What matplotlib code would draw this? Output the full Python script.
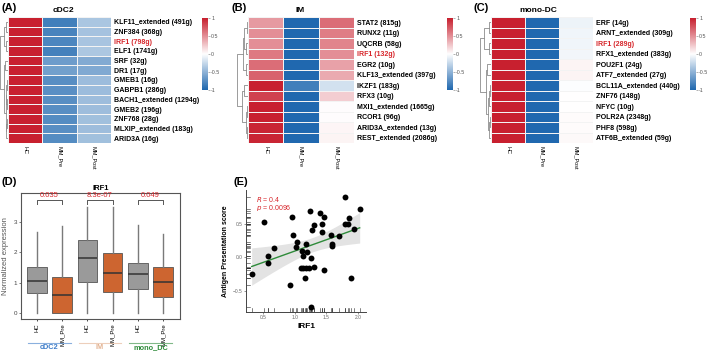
import numpy as np
import matplotlib

matplotlib.use("Agg")
import matplotlib.pyplot as plt  # noqa: E402
import matplotlib.transforms as mtransforms  # noqa: E402
from matplotlib.colors import LinearSegmentedColormap  # noqa: E402

plt.rcParams["font.family"] = ["Liberation Sans", "DejaVu Sans"]

W, H = 709, 358
RED = "#D7262B"
CMAP = LinearSegmentedColormap.from_list("rb", ["#2068AF", "#FFFFFF", "#C8202F"])
conds = ["HC", "MM_Pre", "MM_Post"]

# ---- heatmap data (row-scaled regulon activity) ----
cdc2_genes = ["KLF11_extended (491g)", "ZNF384 (368g)", "IRF1 (798g)", "ELF1 (1741g)",
              "SRF (32g)", "DR1 (17g)", "GMEB1 (16g)", "GABPB1 (286g)",
              "BACH1_extended (1294g)", "GMEB2 (196g)", "ZNF768 (28g)",
              "MLXIP_extended (183g)", "ARID3A (16g)"]
cdc2_hc = [1, 1, 1, 1, 1, 1, 1, 1, 1, 1, 1, 1, 1]
cdc2_pre = [-0.85, -0.82, -0.8, -0.83, -0.65, -0.63, -0.75, -0.74, -0.75, -0.75, -0.76, -0.75, -0.76]
cdc2_post = [-0.38, -0.4, -0.39, -0.37, -0.56, -0.57, -0.44, -0.44, -0.43, -0.43, -0.42, -0.43, -0.42]

im_genes = ["STAT2 (815g)", "RUNX2 (11g)", "UQCRB (58g)", "IRF1 (132g)", "EGR2 (10g)",
            "KLF13_extended (397g)", "IKZF1 (183g)", "RFX3 (10g)", "MXI1_extended (1665g)",
            "RCOR1 (96g)", "ARID3A_extended (13g)", "REST_extended (2086g)"]
im_hc = [0.45, 0.5, 0.5, 0.6, 0.65, 0.7, 1.0, 0.85, 1.0, 1.0, 0.97, 0.97]
im_pre = [-1, -1, -1, -1, -1, -1, -0.85, -1, -1, -1, -1, -1]
im_post = [0.65, 0.58, 0.55, 0.5, 0.42, 0.38, -0.2, 0.22, 0.01, 0.01, 0.04, 0.05]

mono_genes = ["ERF (14g)", "ARNT_extended (309g)", "IRF1 (289g)", "RFX1_extended (383g)",
              "POU2F1 (24g)", "ATF7_extended (27g)", "BCL11A_extended (440g)", "ZNF76 (148g)",
              "NFYC (10g)", "POLR2A (2348g)", "PHF8 (598g)", "ATF6B_extended (59g)"]
mono_hc = [1] * 12
mono_pre = [-1] * 12
mono_post = [-0.08, -0.07, -0.07, -0.06, 0.05, 0.05, -0.01, 0.0, 0.0, 0.02, 0.02, 0.03]

# dendrogram merges: (left, right, height), leaves = row index
cdc2_tree = (((0, 1, 0.3), (2, 3, 0.25), 0.55),
             ((4, 5, 0.35), (((6, 7, 0.12), (8, 9, 0.15), 0.25), ((10, 11, 0.12), 12, 0.2), 0.3), 0.45), 0.95)
im_tree = ((((0, 1, 0.1), (2, 3, 0.15), 0.3), (4, 5, 0.15), 0.45),
           ((6, 7, 0.35), ((8, 9, 0.1), (10, 11, 0.1), 0.2), 0.5), 0.95)
mono_tree = (((0, 1, 0.15), (2, 3, 0.15), 0.6),
             ((4, 5, 0.3), (((6, 7, 0.1), 8, 0.15), ((9, 10, 0.1), 11, 0.15), 0.25), 0.4), 0.95)

# ---- boxplot data (IRF1) ----
box_pos = [1, 2, 3, 4, 5, 6]
box_lo = [0, 0, 0, 0, 0, 0]
box_q1 = [0.65, 0.0, 1.02, 0.68, 0.80, 0.53]
box_med = [1.05, 0.58, 1.80, 1.32, 1.28, 1.03]
box_q3 = [1.50, 1.18, 2.40, 1.97, 1.63, 1.52]
box_hi = [2.65, 2.85, 3.50, 3.50, 2.90, 2.60]
box_labels = ["HC", "MM_Pre", "HC", "MM_Pre", "HC", "MM_Pre"]
pvals = ["0.035", "8.3e-07", "0.049"]
groups = ["cDC2", "IM", "mono_DC"]
group_colors = ["#3D7CC9", "#E2B08E", "#2E8B3A"]

# ---- scatter data ----
irf1 = [0.32, 0.52, 0.58, 0.58, 0.67, 0.92, 0.96, 0.98, 1.03, 1.02, 1.11, 1.13, 1.10, 1.14,
        1.18, 1.22, 1.16, 1.18, 1.20, 1.25, 1.27, 1.26, 1.31, 1.31, 1.40, 1.43, 1.44, 1.47,
        1.47, 1.57, 1.59, 1.59, 1.70, 1.79, 1.79, 1.85, 1.86, 1.89, 1.94, 2.03, 1.26]
aps = [-0.26, 0.53, 0.02, -0.09, 0.13, -0.41, 0.59, 0.33, 0.23, 0.15, 0.09, 0.01, -0.16, -0.16,
       -0.16, -0.16, -0.32, 0.19, 0.08, 0.68, 0.40, -0.01, 0.48, -0.15, 0.65, 0.49, 0.38, 0.60,
       -0.20, 0.33, 0.19, 0.17, 0.31, 0.89, 0.50, 0.49, 0.58, -0.31, 0.42, 0.71, -0.74]


def px_axes(x0, y0, x1, y1):
    return fig.add_axes([x0 / W, 1 - y1 / H, (x1 - x0) / W, (y1 - y0) / H])


def dendro(ax, tree, n):
    def rec(node):
        if isinstance(node, int):
            return node + 0.5, 0.0
        a, b, h = node
        ya, ha = rec(a)
        yb, hb = rec(b)
        ax.plot([ha, h, h, hb], [ya, ya, yb, yb], color="#8c8c8c", lw=0.6)
        return (ya + yb) / 2, h

    rec(tree)
    ax.set_ylim(n, 0)
    ax.set_xlim(1.0, 0)
    ax.axis("off")


def heat_panel(letter, lx, title, tx, hx0, hx1, genes, hc, pre, post, tree, cbx):
    n = len(genes)
    mat = np.array([hc, pre, post]).T
    ax = px_axes(hx0, 17, hx1, 143)
    ax.pcolormesh(mat, cmap=CMAP, vmin=-1, vmax=1, edgecolors="#f3f3f3", linewidth=0.5)
    ax.set_ylim(n, 0)
    ax.set_xlim(0, 3)
    ax.set_xticks([0.5, 1.5, 2.5])
    ax.set_xticklabels(conds, rotation=-90, fontsize=4, va="top")
    ax.set_yticks(np.arange(n) + 0.5)
    ax.set_yticklabels(genes, fontsize=5, fontweight="bold")
    ax.yaxis.tick_right()
    ax.tick_params(length=0, pad=2)
    for t in ax.get_yticklabels():
        if t.get_text().startswith("IRF1"):
            t.set_color(RED)
    for s in ax.spines.values():
        s.set_visible(False)

    dax = px_axes(hx0 - (8 if letter == "(A)" else 12), 17, hx0, 143)
    dendro(dax, tree, n)

    cax = px_axes(cbx, 18, cbx + 6, 90)
    grad = np.linspace(-1, 1, 200).reshape(-1, 1)
    cax.imshow(grad, aspect="auto", cmap=CMAP, origin="lower", extent=[0, 1, -1, 1])
    cax.set_xticks([])
    cax.yaxis.tick_right()
    cax.set_yticks([-1, -0.5, 0, 0.5, 1])
    cax.set_yticklabels(["-1", "-0.5", "0", "0.5", "1"], fontsize=3.8, color="#555")
    cax.tick_params(axis="y", length=1.2, width=0.4, pad=1, color="#777")
    for s in cax.spines.values():
        s.set_visible(False)

    fig.text(lx / W, 1 - 3 / H, letter, fontsize=8, fontweight="bold", va="top")
    fig.text(tx / W, 1 - 10 / H, title, fontsize=6, fontweight="bold", ha="center", va="center")


fig = plt.figure(figsize=(W / 100, H / 100), dpi=100)

heat_panel("(A)", 1, "cDC2", 63, 8, 111, cdc2_genes, cdc2_hc, cdc2_pre, cdc2_post, cdc2_tree, 202)
heat_panel("(B)", 231, "IM", 300, 248, 354, im_genes, im_hc, im_pre, im_post, im_tree, 447)
heat_panel("(C)", 474, "mono-DC", 538, 491, 593, mono_genes, mono_hc, mono_pre, mono_post,
           mono_tree, 690)

# ---- (D) boxplot ----
axd = px_axes(21, 193, 180, 319)
stats = [
    {"whislo": lo, "q1": q1, "med": m, "q3": q3, "whishi": hi, "fliers": []}
    for lo, q1, m, q3, hi in zip(box_lo, box_q1, box_med, box_q3, box_hi)
]
bp = axd.bxp(stats, positions=box_pos, widths=0.78, patch_artist=True, showcaps=False,
             medianprops=dict(color="#333333", lw=1.1),
             whiskerprops=dict(color="#7a7a7a", lw=1.0),
             boxprops=dict(edgecolor="#555555", lw=0.6))
for i, b in enumerate(bp["boxes"]):
    b.set_facecolor("#9A9A9A" if i % 2 == 0 else "#CD6530")
axd.set_xlim(0.37, 6.67)
axd.set_ylim(-0.2, 3.95)
axd.set_yticks([0, 1, 2, 3])
axd.tick_params(axis="y", labelsize=4.5, length=1.5, width=0.5, pad=1.5, colors="#444")
axd.set_xticks(box_pos)
axd.set_xticklabels(box_labels, rotation=90, fontsize=4.3)
axd.tick_params(axis="x", length=1.5, width=0.5, pad=1.5)
for s in axd.spines.values():
    s.set_color("#555555")
    s.set_linewidth(0.8)
axd.set_ylabel("Normalized expression", fontsize=5.5, color="#555", labelpad=3)
axd.set_title("IRF1", fontsize=5.5, fontweight="bold", pad=2)
for k, p in enumerate(pvals):
    x1, x2 = box_pos[2 * k], box_pos[2 * k + 1]
    axd.plot([x1, x1, x2, x2], [3.6, 3.73, 3.73, 3.6], color="#555", lw=0.7)
    axd.text((x1 + x2) / 2, 3.76, p, color=RED, fontsize=5.5, ha="center", va="bottom")
trans = mtransforms.blended_transform_factory(axd.transData, axd.transAxes)
for k, (g, c) in enumerate(zip(groups, group_colors)):
    x1, x2 = box_pos[2 * k], box_pos[2 * k + 1]
    axd.plot([x1 - 0.35, x2 + 0.35], [-0.19, -0.19], color=c, lw=0.8, alpha=0.6,
             transform=trans, clip_on=False)
    axd.text((x1 + x2) / 2, -0.2, g, color=c, fontsize=5.3, fontweight="bold",
             ha="center", va="top", transform=trans)
fig.text(2 / W, 1 - 177 / H, "(D)", fontsize=8, fontweight="bold", va="top")

# ---- (E) scatter ----
axe = px_axes(246, 190, 366, 312)
x = np.array(irf1)
y = np.array(aps)
slope, icpt = np.polyfit(x, y, 1)
xs = np.linspace(x.min(), x.max(), 100)
ys = slope * xs + icpt
resid = y - (slope * x + icpt)
nobs = len(x)
s_err = np.sqrt(np.sum(resid ** 2) / (nobs - 2))
ci = 2.02 * s_err * np.sqrt(1 / nobs + (xs - x.mean()) ** 2 / np.sum((x - x.mean()) ** 2))
axe.fill_between(xs, ys - ci, ys + ci, color="#dcdcdc", alpha=0.8, lw=0, zorder=1)
axe.plot(xs, ys, color="#2E8B3A", lw=1.0, zorder=3)
axe.scatter(x, y, s=18, color="black", zorder=4, lw=0)
tb = mtransforms.blended_transform_factory(axe.transData, axe.transAxes)
tl = mtransforms.blended_transform_factory(axe.transAxes, axe.transData)
for xi in x:
    axe.plot([xi, xi], [0, 0.035], color="#222", lw=0.4, transform=tb, clip_on=False)
for yi in y:
    axe.plot([0, 0.03], [yi, yi], color="#222", lw=0.4, transform=tl, clip_on=False)
axe.set_xlim(0.23, 2.13)
axe.set_ylim(-0.82, 1.0)
axe.set_xticks([0.5, 1.0, 1.5, 2.0])
axe.set_yticks([-0.5, 0.0, 0.5])
axe.tick_params(labelsize=3.5, length=1.5, width=0.5, pad=1, colors="#666")
for s in ["top", "right"]:
    axe.spines[s].set_visible(False)
for s in ["left", "bottom"]:
    axe.spines[s].set_color("#444")
    axe.spines[s].set_linewidth(0.7)
axe.set_xlabel("IRF1", fontsize=6, fontweight="bold", labelpad=2)
axe.set_ylabel("Antigen Presentation score", fontsize=5, fontweight="bold", labelpad=3)
axe.text(0.08, 0.96, "$R$ = 0.4", color=RED, fontsize=5, transform=axe.transAxes, va="top")
axe.text(0.08, 0.89, "$p$ = 0.0096", color=RED, fontsize=5, transform=axe.transAxes, va="top")
fig.text(234 / W, 1 - 177 / H, "(E)", fontsize=8, fontweight="bold", va="top")

fig.savefig("out.png", dpi=100, facecolor="white")
